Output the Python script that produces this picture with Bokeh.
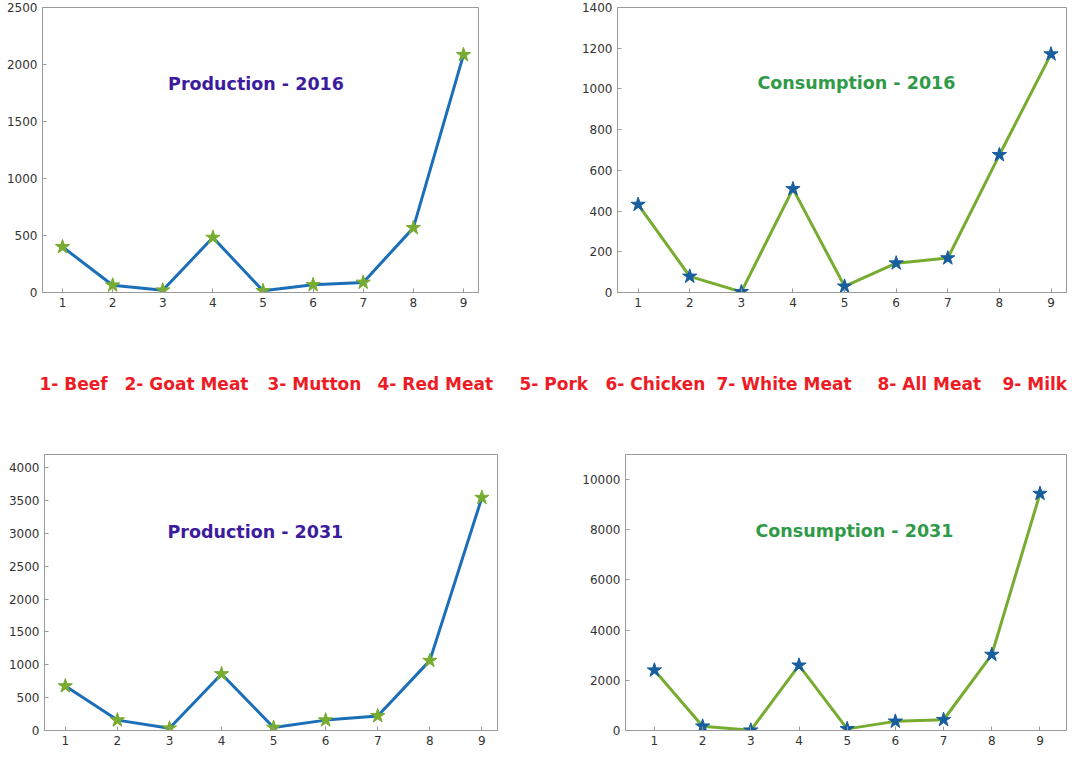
from bokeh.plotting import figure
from bokeh.layouts import column, row
from bokeh.models import Range1d, FixedTicker, Label, ColumnDataSource
from bokeh.embed import file_html
from bokeh.resources import INLINE

# ---------------- data ----------------
items = [1, 2, 3, 4, 5, 6, 7, 8, 9]
categories = ["Beef", "Goat Meat", "Mutton", "Red Meat", "Pork",
              "Chicken", "White Meat", "All Meat", "Milk"]

production_2016 = [400, 64, 20, 482, 15, 67, 88, 567, 2085]
consumption_2016 = [432, 79, 3, 509, 30, 144, 169, 676, 1171]
production_2031 = [677, 158, 35, 860, 45, 158, 222, 1063, 3544]
consumption_2031 = [2403, 169, 10, 2597, 65, 364, 429, 3026, 9442]

yticks_p2016 = [0, 500, 1000, 1500, 2000, 2500]
yticks_c2016 = [0, 200, 400, 600, 800, 1000, 1200, 1400]
yticks_p2031 = [0, 500, 1000, 1500, 2000, 2500, 3000, 3500, 4000]
yticks_c2031 = [0, 2000, 4000, 6000, 8000, 10000]

# ---------------- styles ----------------
FONT = "DejaVu Sans"
PROD_TITLE = "#3c1c9c"
CONS_TITLE = "#2f9a47"
BLUE = "#1a6fb8"
GREEN = "#77ac30"
STAR_BLUE = "#175e9e"
FRAME = "#9a9a9a"
TICKTXT = "#333333"
RED = "#ee1c25"


def panel(vals, yticks, ylim, xlim, title, title_color, title_xy,
          line_color, star_color, width, height, bl, br, bt, bb):
    src = ColumnDataSource(dict(x=items, y=vals))
    p = figure(width=width, height=height, output_backend="svg",
               toolbar_location=None, x_range=Range1d(*xlim),
               y_range=Range1d(*ylim), min_border_left=bl,
               min_border_right=br, min_border_top=bt, min_border_bottom=bb)
    p.grid.visible = False
    p.outline_line_color = FRAME
    p.outline_line_width = 1
    p.background_fill_color = "white"
    p.border_fill_color = "white"
    for ax, tk in ((p.xaxis[0], items), (p.yaxis[0], yticks)):
        ax.ticker = FixedTicker(ticks=tk)
        ax.major_tick_in = 4
        ax.major_tick_out = 0
        ax.minor_tick_line_color = None
        ax.axis_line_color = FRAME
        ax.major_tick_line_color = FRAME
        ax.major_label_text_font = FONT
        ax.major_label_text_font_size = "12px"
        ax.major_label_text_color = TICKTXT
        ax.major_label_standoff = 5

    p.line("x", "y", source=src, line_color=line_color, line_width=3)
    p.scatter("x", "y", source=src, marker="star", size=15,
              fill_color=star_color, line_color=star_color)
    p.add_layout(Label(x=title_xy[0], y=title_xy[1], text=title,
                       text_font=FONT, text_font_style="bold",
                       text_font_size="17.5px", text_color=title_color,
                       text_align="center", text_baseline="alphabetic"))
    return p


p1 = panel(production_2016, yticks_p2016, (0, 2500), (0.6, 9.3),
           "Production - 2016", PROD_TITLE, (4.86, 1833), BLUE, GREEN,
           572, 314, 42, 94, 7, 22)
p2 = panel(consumption_2016, yticks_c2016, (0, 1400), (0.6, 9.3),
           "Consumption - 2016", CONS_TITLE, (5.23, 1027), GREEN, STAR_BLUE,
           496, 314, 45, 2, 7, 22)

# category label strip
LW, LH = 1068, 129
lab = figure(width=LW, height=LH, output_backend="svg", toolbar_location=None,
             x_range=Range1d(0, LW), y_range=Range1d(0, LH),
             min_border=0, outline_line_color=None)
lab.axis.visible = False
lab.grid.visible = False
label_x = [39, 124, 267, 377, 519, 605, 716, 877, 1002]
for i, (num, name) in enumerate(zip(items, categories)):
    lab.add_layout(Label(x=label_x[i], y=LH - 69, text=f"{num}- {name}",
                         text_font=FONT, text_font_style="bold",
                         text_font_size="17px", text_color=RED,
                         text_align="left", text_baseline="alphabetic"))

p3 = panel(production_2031, yticks_p2031, (0, 4200), (0.6, 9.3),
           "Production - 2031", PROD_TITLE, (4.65, 3015), BLUE, GREEN,
           572, 307, 44, 75, 11, 20)
p4 = panel(consumption_2031, yticks_c2031, (0, 11000), (0.4, 9.55),
           "Consumption - 2031", CONS_TITLE, (5.15, 7947), GREEN, STAR_BLUE,
           496, 307, 53, 2, 11, 20)

layout = column(row(p1, p2), lab, row(p3, p4))
open("out.html", "w").write(file_html(layout, INLINE))
